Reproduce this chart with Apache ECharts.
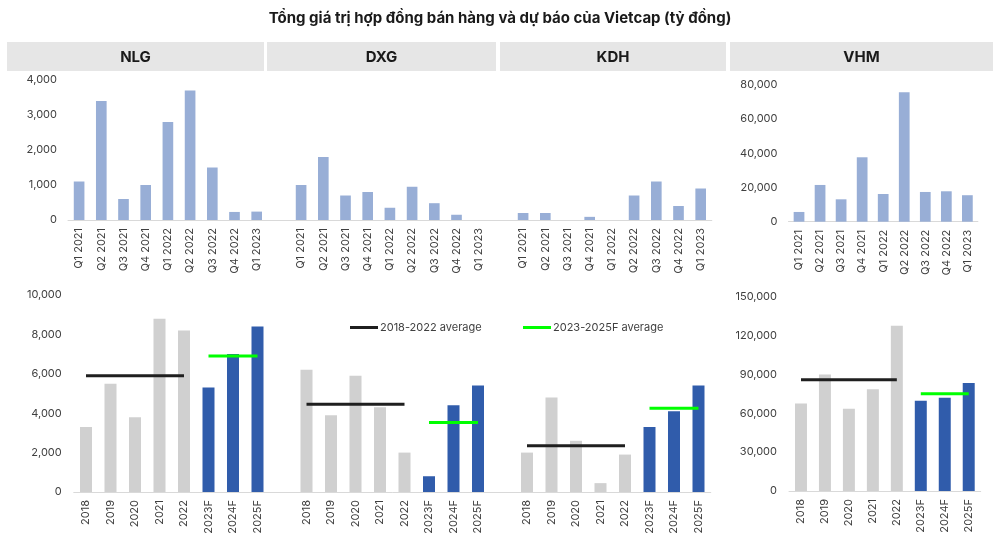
<!DOCTYPE html>
<html><head><meta charset="utf-8">
<script src="https://cdn.jsdelivr.net/npm/echarts@6/dist/echarts.min.js"></script>
<style>html,body{margin:0;padding:0;background:#fff}#c{width:1000px;height:555px}</style>
</head><body><div id="c"></div>
<script>
const titleText = 'Tổng giá trị hợp đồng bán hàng và dự báo của Vietcap (tỷ đồng)';
const tickers = ['NLG', 'DXG', 'KDH', 'VHM'];
const quarters = ['Q1 2021','Q2 2021','Q3 2021','Q4 2021','Q1 2022','Q2 2022','Q3 2022','Q4 2022','Q1 2023'];
const years = ['2018','2019','2020','2021','2022','2023F','2024F','2025F'];
const histYears = ['2018','2019','2020','2021','2022'];
const fcstYears = ['2023F','2024F','2025F'];
// quarterly contracted sales
const nlgQ = [1100, 3400, 600, 1000, 2800, 3700, 1500, 230, 240];
const dxgQ = [1000, 1800, 700, 800, 350, 950, 480, 150, 0];
const kdhQ = [200, 200, 0, 90, 0, 700, 1100, 400, 900];
const vhmQ = [5700, 21500, 13100, 37700, 16200, 75700, 17400, 17800, 15500];
// annual contracted sales and forecast
const nlgY = [3300, 5500, 3800, 8800, 8200, 5300, 7000, 8400];
const dxgY = [6200, 3900, 5900, 4300, 2000, 800, 4400, 5400];
const kdhY = [2000, 4800, 2600, 450, 1900, 3300, 4100, 5400];
const vhmY = [67500, 90000, 63500, 78500, 127500, 69700, 72000, 83400];
// averages
const histAvgName = '2018-2022 average';
const fcstAvgName = '2023-2025F average';
const histAvg = { NLG: 5900, DXG: 4450, KDH: 2350, VHM: 85900 };
const fcstAvg = { NLG: 6900, DXG: 3530, KDH: 4250, VHM: 75000 };
// axis ticks
const topTicks = { max: 4000, interval: 1000 };
const botTicks = { max: 10000, interval: 2000 };
const vhmTopTicks = { max: 80000, interval: 20000 };
const vhmBotTicks = { max: 150000, interval: 30000 };

const FONT = 'Inter, "Noto Sans", sans-serif';
const C_TOP = '#98aed6', C_HIST = '#d0d0d0', C_FCST = '#305cab', C_AXIS = '#d9d9d9', C_TXT = '#404040';

function combine(cats, gapCount) {
  const out = [];
  for (let g = 0; g < 3; g++) {
    cats.forEach(c => out.push(c));
    if (g < 2) for (let k = 0; k < gapCount; k++) out.push(' '.repeat(g + 1));
  }
  return out;
}
const topCats = combine(quarters, 1);
const botCats = combine(years, 1);
function joinVals(arrs) {
  const out = [];
  arrs.forEach((a, i) => { a.forEach(v => out.push(v)); if (i < arrs.length - 1) out.push('-'); });
  return out;
}
const topVals = joinVals([nlgQ, dxgQ, kdhQ]);
function colored(vals) {
  return vals.map((v, i) => v === '-' ? '-' : { value: v, itemStyle: { color: fcstYears.includes(years[i]) ? C_FCST : C_HIST } });
}
const botVals = [].concat(colored(nlgY), ['-'], colored(dxgY), ['-'], colored(kdhY));
function avgLine(ticks, avgObj, set) {
  const out = [];
  ticks.forEach((t, g) => {
    years.forEach(y => out.push(set.includes(y) ? avgObj[t] : '-'));
    if (g < ticks.length - 1) out.push('-');
  });
  return out;
}
const comb3 = ['NLG', 'DXG', 'KDH'];

const yLab = { color: C_TXT, fontSize: 11, fontFamily: FONT, formatter: v => v.toLocaleString('en-US') };
const xLab = { color: C_TXT, fontSize: 11, fontFamily: FONT, rotate: 90, interval: 0, margin: 8 };
function xAxis(idx, data) {
  return { type: 'category', gridIndex: idx, data, axisLine: { lineStyle: { color: C_AXIS } }, axisTick: { show: false }, axisLabel: xLab };
}
function yAxis(idx, t, m) {
  return { type: 'value', gridIndex: idx, min: 0, max: t.max, interval: t.interval, splitLine: { show: false }, axisLine: { show: false }, axisTick: { show: false }, axisLabel: Object.assign({ margin: m }, yLab) };
}
const lineCommon = { type: 'line', symbol: 'none', connectNulls: false, z: 5, lineStyle: { width: 3 } };

const headers = [
  { name: 'NLG', x: 7, w: 257 },
  { name: 'DXG', x: 267, w: 229 },
  { name: 'KDH', x: 500, w: 226 },
  { name: 'VHM', x: 730, w: 263 }
];
const graphics = [];
headers.forEach(h => {
  graphics.push({ type: 'rect', shape: { x: h.x, y: 42, width: h.w, height: 29 }, style: { fill: '#e6e6e6' }, z: 0 });
  graphics.push({ type: 'text', x: h.x + h.w / 2, y: 57, style: { text: h.name, fill: '#1a1a1a', font: 'bold 15px ' + FONT, textAlign: 'center', textVerticalAlign: 'middle' }, z: 1 });
});

const legendCommon = { icon: 'rect', itemWidth: 28, itemHeight: 3, itemGap: 4, selectedMode: false, textStyle: { fontSize: 11, color: C_TXT, fontFamily: FONT, padding: [0, 0, 0, -3] } };

const option = {
  animation: false,
  textStyle: { fontFamily: FONT },
  title: { text: titleText, left: 'center', top: 6, textStyle: { fontSize: 15, fontWeight: 'bold', color: '#1a1a1a', fontFamily: FONT } },
  graphic: graphics,
  legend: [
    Object.assign({ data: [histAvgName], left: 345, top: 317 }, legendCommon),
    Object.assign({ data: [fcstAvgName], left: 518, top: 317 }, legendCommon)
  ],
  grid: [
    { left: 68, top: 80, width: 643.8, height: 140 },
    { left: 73.75, top: 295, width: 637, height: 197 },
    { left: 788.5, top: 85, width: 189.4, height: 136.7 },
    { left: 789, top: 296.7, width: 191.7, height: 194.3 }
  ],
  xAxis: [xAxis(0, topCats), xAxis(1, botCats), xAxis(2, quarters), xAxis(3, years)],
  yAxis: [yAxis(0, topTicks, 11), yAxis(1, botTicks, 12), yAxis(2, vhmTopTicks, 11), yAxis(3, vhmBotTicks, 12)],
  series: [
    { type: 'bar', name: 'top', xAxisIndex: 0, yAxisIndex: 0, data: topVals, itemStyle: { color: C_TOP }, barCategoryGap: '52%' },
    { type: 'bar', name: 'bot', xAxisIndex: 1, yAxisIndex: 1, data: botVals, barCategoryGap: '51%' },
    { type: 'bar', name: 'vhmTop', xAxisIndex: 2, yAxisIndex: 2, data: vhmQ, itemStyle: { color: C_TOP }, barCategoryGap: '49%' },
    { type: 'bar', name: 'vhmBot', xAxisIndex: 3, yAxisIndex: 3, data: colored(vhmY), barCategoryGap: '50%' },
    Object.assign({}, lineCommon, { name: histAvgName, xAxisIndex: 1, yAxisIndex: 1, data: avgLine(comb3, histAvg, histYears), color: '#1f1f1f', lineStyle: { width: 3, color: '#1f1f1f' } }),
    Object.assign({}, lineCommon, { name: fcstAvgName, xAxisIndex: 1, yAxisIndex: 1, data: avgLine(comb3, fcstAvg, fcstYears), color: '#00ff00', lineStyle: { width: 3, color: '#00ff00' } }),
    Object.assign({}, lineCommon, { name: histAvgName, xAxisIndex: 3, yAxisIndex: 3, data: avgLine(['VHM'], histAvg, histYears), color: '#1f1f1f', lineStyle: { width: 3, color: '#1f1f1f' } }),
    Object.assign({}, lineCommon, { name: fcstAvgName, xAxisIndex: 3, yAxisIndex: 3, data: avgLine(['VHM'], fcstAvg, fcstYears), color: '#00ff00', lineStyle: { width: 3, color: '#00ff00' } })
  ]
};
const chart = echarts.init(document.getElementById('c'), null, { renderer: 'canvas' });
chart.setOption(option);
</script></body></html>
